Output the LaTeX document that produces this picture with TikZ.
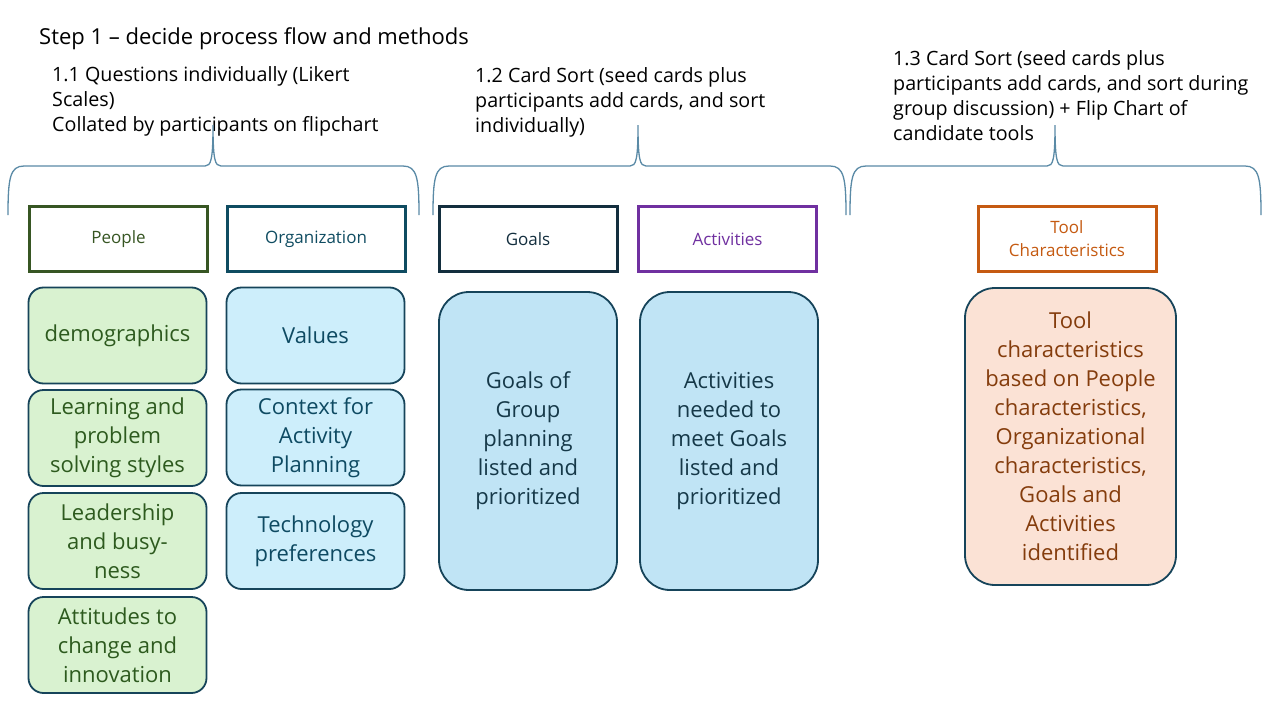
\documentclass[tikz,border=0pt]{standalone}
\usepackage{fontspec}
\setmainfont{Open Sans}
\definecolor{pplC}{HTML}{375623}
\definecolor{orgC}{HTML}{0F4C61}
\definecolor{goalC}{HTML}{132E3E}
\definecolor{actC}{HTML}{7030A0}
\definecolor{toolC}{HTML}{C55A11}
\definecolor{cardB}{HTML}{16445A}
\definecolor{grnF}{HTML}{D9F2D0}
\definecolor{grnT}{HTML}{2D5A1E}
\definecolor{bluF}{HTML}{CDEEFB}
\definecolor{bluT}{HTML}{0E4A62}
\definecolor{bigF}{HTML}{C0E4F5}
\definecolor{bigT}{HTML}{153848}
\definecolor{tolF}{HTML}{FBE2D5}
\definecolor{tolT}{HTML}{843C0C}
\definecolor{brC}{HTML}{5A8AA6}
\begin{document}
\begin{tikzpicture}[x=1pt,y=-1pt,
  hdr/.style={draw, line width=3pt, fill=white, minimum width=178pt, minimum height=65pt, inner sep=0pt, align=center, font=\fontsize{17}{23}\selectfont},
  card/.style={draw=cardB, line width=1.8pt, rounded corners=15pt, minimum width=178pt, minimum height=96pt, inner sep=0pt, align=center, font=\fontsize{22}{29}\selectfont},
  bigcard/.style={card, rounded corners=30pt},
  note/.style={anchor=north west, inner sep=0pt, align=left, font=\fontsize{19.7}{25}\selectfont},
  brace/.style={draw=brC, line width=1.3pt}]
\useasboundingbox[fill=white] (0,0) rectangle (1280,720);
% title and notes
\node[note, font=\fontsize{22}{25}\selectfont] (title) at (39,27) {Step 1 – decide process flow and methods};
\node[note] (n11) at (52,66) {1.1 Questions individually (Likert\\Scales)\\Collated by participants on flipchart};
\node[note] (n12) at (475,67) {1.2 Card Sort (seed cards plus\\participants add cards, and sort\\individually)};
\node[note] (n13) at (893,50) {1.3 Card Sort (seed cards plus\\participants add cards, and sort during\\group discussion) + Flip Chart of\\candidate tools};
% braces
\foreach \a/\m/\b in {8/213/419, 433/638/846, 850/1055/1261}{
  \draw[brace] (\a,215) .. controls (\a,178) and (\a+2,166) .. (\a+16,166) -- (\m-8,166)
     .. controls (\m-2,166) and (\m,160) .. (\m,125)
     .. controls (\m,160) and (\m+2,166) .. (\m+8,166) -- (\b-16,166)
     .. controls (\b-2,166) and (\b,178) .. (\b,215);
}
% headers
\node[hdr, draw=pplC, text=pplC] (people) at (118.5,239) {People};
\node[hdr, draw=orgC, text=orgC] (org) at (316,239) {Organization};
\node[hdr, draw=goalC, text=goalC] (goals) at (528,239) {Goals};
\node[hdr, draw=actC, text=actC] (act) at (727.5,239) {Activities};
\node[hdr, draw=toolC, text=toolC] (tool) at (1067,239) {Tool\\Characteristics};
% people cards
\node[card, fill=grnF, text=grnT] (demo) at (117.5,335.5) {\raisebox{-3pt}{demographics}};
\node[card, fill=grnF, text=grnT] (learn) at (117.5,438) {Learning and\\problem\\solving styles};
\node[card, fill=grnF, text=grnT] (lead) at (117.5,541) {Leadership\\and busy-\\ness};
\node[card, fill=grnF, text=grnT] (att) at (117.5,645) {Attitudes to\\change and\\innovation};
% org cards
\node[card, fill=bluF, text=bluT] (val) at (315.5,335.5) {Values};
\node[card, fill=bluF, text=bluT] (ctx) at (315.5,437.5) {Context for\\Activity\\Planning};
\node[card, fill=bluF, text=bluT] (tech) at (315.5,541) {Technology\\preferences};
% big cards
\node[bigcard, fill=bigF, text=bigT, minimum height=298pt] (gcard) at (528,441) {Goals of\\Group\\planning\\listed and\\prioritized};
\node[bigcard, fill=bigF, text=bigT, minimum height=298pt] (acard) at (729,441) {Activities\\needed to\\meet Goals\\listed and\\prioritized};
\node[bigcard, fill=tolF, text=tolT, minimum width=211pt, minimum height=297pt] (tcard) at (1070.5,436.5) {Tool\\characteristics\\based on People\\characteristics,\\Organizational\\characteristics,\\Goals and\\Activities\\identified};
\end{tikzpicture}
\end{document}
